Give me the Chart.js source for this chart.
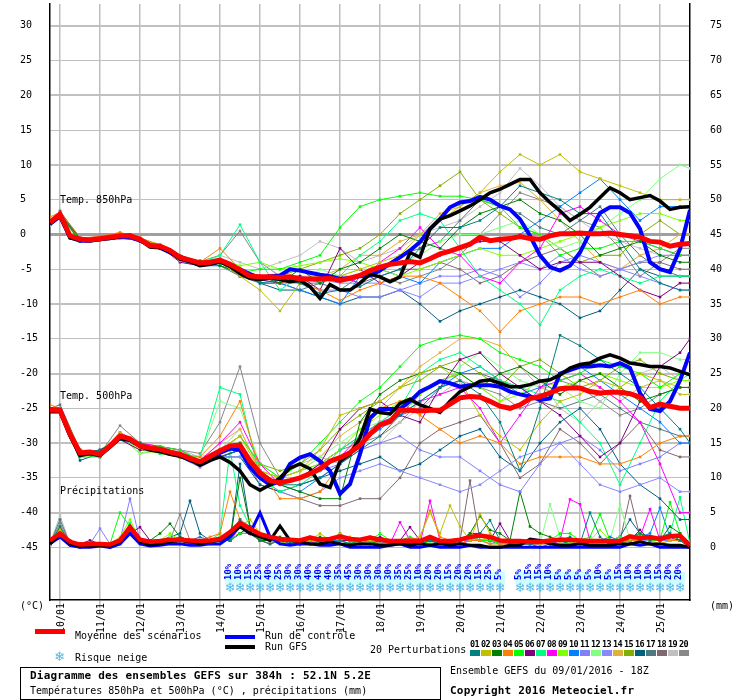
<!DOCTYPE html>
<html lang="fr">
<head>
<meta charset="utf-8">
<title>Diagramme des ensembles GEFS</title>
<script src="https://cdn.jsdelivr.net/npm/chart.js@4.4.1/dist/chart.umd.min.js"></script>
<style>
  body { margin: 0; background: #fff; }
  #page { position: relative; width: 740px; height: 700px; overflow: hidden;
          font-family: "DejaVu Sans Mono", monospace; font-size: 10px; color: #000; }
  #gefs { position: absolute; left: 0; top: 0; }
  .txt { position: absolute; white-space: nowrap; line-height: 12px; }
  .bold { font-weight: bold; font-size: 11px; letter-spacing: 0.2px; }
  .swatch { position: absolute; }
  #box { position: absolute; left: 20px; top: 667px; width: 421px; height: 33px;
         box-sizing: border-box; border: 1.5px solid #000; }
  .num { position: absolute; top: 639px; width: 11px; text-align: center; font-size: 8.5px;
         font-weight: bold; line-height: 10px; letter-spacing: -0.5px; }
  .snowflake { color: #4cb8e8; font-family: "DejaVu Sans"; font-size: 13px; }
</style>
</head>
<body>
<div id="page">
  <canvas id="gefs" width="740" height="700"></canvas>
  <div class="txt" style="left:20px;top:600px">(°C)</div>
  <div class="txt" style="left:710px;top:600px">(mm)</div>
  <!-- legende -->
  <div class="swatch" style="left:35px;top:629px;width:30px;height:5px;background:#ff0000"></div>
  <div class="txt" style="left:75px;top:630px">Moyenne des scénarios</div>
  <div class="swatch" style="left:225px;top:635px;width:30px;height:4px;background:#0000ff"></div>
  <div class="txt" style="left:265px;top:630px">Run de contrôle</div>
  <div class="swatch" style="left:225px;top:645px;width:30px;height:4px;background:#000000"></div>
  <div class="txt" style="left:265px;top:641px">Run GFS</div>
  <div class="txt snowflake" style="left:54px;top:651px">❄</div>
  <div class="txt" style="left:75px;top:652px">Risque neige</div>
  <div class="txt" style="left:370px;top:644px">20 Perturbations</div>
  <div id="members"></div>
  <!-- cadre du titre -->
  <div id="box"></div>
  <div class="txt bold" style="left:30px;top:670px">Diagramme des ensembles GEFS sur 384h : 52.1N 5.2E</div>
  <div class="txt" style="left:30px;top:685px">Températures 850hPa et 500hPa (°C) , précipitations (mm)</div>
  <div class="txt" style="left:450px;top:665px">Ensemble GEFS du 09/01/2016 - 18Z</div>
  <div class="txt bold" style="left:450px;top:685px">Copyright 2016 Meteociel.fr</div>
</div>
<script>
// pas de 6h depuis le 09/01 18Z
const allSteps = [0,1,2,3,4,5,6,7,8,9,10,11,12,13,14,15,16,17,18,19,20,21,22,23,24,25,26,27,28,29,30,31,32,
  33,34,35,36,37,38,39,40,41,42,43,44,45,46,47,48,49,50,51,52,53,54,55,56,57,58,59,60,61,62,63,64];
// perturbations lues toutes les 12h
const tempSteps = [0,1,3,5,7,9,11,13,15,17,19,21,23,25,27,29,31,33,35,37,39,41,43,45,47,49,51,53,55,57,59,61,63,64];
const dayTicks = [1,5,9,13,17,21,25,29,33,37,41,45,49,53,57,61];
const dayLabels = ['10/01','11/01','12/01','13/01','14/01','15/01','16/01','17/01',
  '18/01','19/01','20/01','21/01','22/01','23/01','24/01','25/01'];
const tempTicks = [-45,-40,-35,-30,-25,-20,-15,-10,-5,0,5,10,15,20,25,30];
const rainTicks = [0,5,10,15,20,25,30,35,40,45,50,55,60,65,70,75];

const memberColors = ['#008080','#c0c000','#008000','#ff8000','#00ff00','#800080','#00ff80','#ff00ff',
  '#80ff00','#0080ff','#8080ff','#80ff80','#8888ff','#e0b040','#80b000','#006080',
  '#507880','#806870','#c0c0c0','#888888'];

// Temp. 850hPa
const mean850 = [1.7,2.9,-0.2,-0.7,-0.8,-0.6,-0.4,-0.2,-0.2,-0.7,-1.6,-1.7,-2.3,
  -3.3,-3.7,-4.1,-4.0,-3.7,-4.3,-5.1,-6.0,-6.1,-6.1,-6.2,-6.1,-6.4,
  -6.4,-6.4,-6.3,-6.6,-6.3,-5.9,-5.2,-4.7,-4.3,-4.1,-3.9,-4.1,-3.5,
  -2.8,-2.4,-1.9,-1.4,-0.4,-0.9,-0.7,-0.6,-0.3,-0.6,-0.7,-0.2,0.1,
  0.1,0.2,0.1,0.1,0.2,0,-0.2,-0.4,-1.0,-1.1,-1.7,-1.4,-1.3];
const ctrl850 = [1.5,2.6,-0.4,-0.9,-0.9,-0.7,-0.5,-0.4,-0.4,-0.9,-1.5,-1.9,-2.6,
  -3.2,-3.8,-4.3,-4.2,-3.9,-4.4,-5.0,-5.7,-6.3,-6.0,-5.9,-5.0,-5.2,
  -5.5,-5.8,-6.0,-6.4,-6.3,-6.0,-5.9,-5.2,-4.2,-3.3,-2.3,-1.1,0.8,
  2.2,3.9,4.6,4.8,5.4,5.0,4.1,3.6,2.2,-0.2,-3.0,-4.7,-5.2,
  -4.5,-2.6,0.3,3.1,3.9,3.9,3.1,0.8,-4.0,-5.0,-5.4,-2.1,3.5];
const gfs850 = [1.5,2.8,-0.5,-0.8,-0.9,-0.7,-0.6,-0.3,-0.1,-0.8,-1.8,-1.9,-2.5,
  -3.5,-3.9,-4.5,-4.3,-3.9,-4.6,-5.6,-6.3,-6.5,-6.2,-6.5,-6.8,-6.6,
  -7.5,-9.2,-7.2,-8.0,-8.0,-7.0,-5.7,-6.1,-6.8,-6.1,-2.6,-3.3,0.8,
  2.2,2.7,3.4,4.1,5.0,6.0,6.5,7.2,7.9,7.9,6.0,4.6,3.4,
  2.0,2.9,3.9,5.3,6.7,6.0,5.0,5.3,5.6,4.8,3.6,3.9,4.0];
const pert850 = [
  [2.0,3.0,-1.0,-0.8,0.0,-1.0,-2.0,-3.5,-4.5,-4.0,-5.5,-7.0,-6.5,-7.0,-8.5,-8.0,-7.5,-6,-5,-2,1,1,2,4,7,6,5,3,3,-1,-5,-7,-8,-8],
  [1.5,2.8,-0.8,-0.5,-0.5,-0.8,-1.5,-3.0,-4.0,-4.0,-6.0,-8.0,-11.0,-7.0,-6.0,-6.0,-5.0,-4,-3,0,2,4,6,9,11.5,10,11.5,9,8,7,6,5,5,5],
  [1.6,3.0,-0.6,-0.8,-0.4,-0.6,-1.8,-3.6,-3.8,-4.5,-5.5,-6.0,-7.0,-5.0,-7.0,-5.0,-4.0,-2,0,-1,-2,1,3,4,5,3,2,0,-3,-2,-1,-3,-4,-4],
  [2.5,3.2,-0.5,-0.3,0.3,-0.5,-1.5,-3.8,-4.0,-2.0,-5.0,-6.0,-7.0,-7.0,-8.0,-9.5,-8.0,-7,-6,-6,-7,-9,-11,-14,-11,-10,-9,-9,-10,-9,-8,-10,-9,-9],
  [1.7,2.7,-1.0,-0.5,-0.3,-0.8,-1.6,-3.5,-4.0,-4.5,-5.5,-5.0,-5.0,-4.0,-3.0,1.0,4.0,5,5.5,6,5.5,5.5,5,4,1,0,-3,-2,-2,-1,-1,-2,-3,-3],
  [1.7,2.9,-0.8,-0.4,-0.5,-0.9,-1.7,-4.0,-4.5,-4.0,-6.0,-6.5,-7.0,-6.0,-8.0,-2.0,-5.0,-7,-6,-4,-3,-2,-1,-1,-3,-5,-4,-4,-4,-6,-8,-9,-7,-7],
  [1.8,2.8,-0.7,-0.7,-0.2,-0.6,-1.8,-3.4,-4.0,-3.0,1.4,-4.0,-8.0,-6.0,-7.0,-6.0,-3.0,-1,2,3,2,-2,-6,-8,-10,-13,-8,-6,-5,-6,-7,-6,-6,-6],
  [1.6,2.9,-0.6,-0.3,-0.4,-0.9,-2.0,-3.2,-4.5,-4.0,-5.0,-6.5,-6.0,-6.0,-7.0,-6.0,-7.0,-4,-2,1,-2,-3,-6,-7,-4,-2,3,4,2,0,-1,-2,-3,-3],
  [1.5,3.1,-0.8,-0.6,-0.3,-0.7,-1.4,-3.5,-4.0,-3.5,-4.5,-4.0,-5.0,-4.5,-4.0,-3.5,-4.0,-5,-6,-5,-4,-3,-2,-3,-3,-2,-1,0,1,2,3,3,2,2],
  [1.7,2.8,-0.7,-0.5,-0.2,-0.8,-1.7,-3.8,-4.5,-4.5,-5.5,-7.0,-7.0,-8.0,-9.0,-10.0,-6.0,-5,-6,-7,-4,-3,-2,-2,0,2,4,6,8,5,2,4,4,4],
  [1.7,3.0,-0.7,-0.6,-0.2,-0.6,-1.5,-3.0,-4.0,-4.5,-5.5,-6.0,-6.5,-7.0,-8.0,-8.0,-9.0,-9,-8,-7,-6,-6,-5,-6,-9,-7,-4,-3,-4,-5,-6,-7,-8,-8],
  [1.8,2.9,-0.7,-0.6,-0.1,-0.7,-1.8,-3.3,-4.0,-4.0,-6.0,-6.0,-6.0,-7.0,-5.0,-6.0,-5.0,-5,-4,-3,-1,0,0,1,2,0,-2,-1,1,3,5,8,10,9.5],
  [1.7,2.9,-0.6,-0.7,-0.3,-0.7,-1.6,-3.3,-4.2,-3.5,-5.0,-6.0,-6.0,-6.0,-6.5,-7.0,-7.0,-7,-8,-9,-7,-7,-6,-5,-4,-5,-3,-5,-6,-5,-4,-3,-3,-3],
  [1.9,2.9,-0.5,-0.6,-0.2,-0.7,-1.7,-3.4,-4.0,-3.5,-5.0,-6.0,-7.0,-6.0,-6.0,-5.0,-3.0,-3,-1,0,3,4,6,7,7.5,5,2,-1,-4,-5,-3,-2,0,0],
  [1.6,2.9,-0.8,-0.6,-0.2,-0.7,-1.7,-3.3,-4.0,-4.0,-5.0,-6.5,-6.0,-5.0,-4.0,-3.0,-2.0,0,3,5,7,9,5,3,1,0,-2,-4,-3,-3,0,2,0,0],
  [1.7,3.1,-0.6,-0.6,-0.2,-0.7,-1.7,-3.3,-4.0,-4.0,-5.0,-7.0,-8.0,-8.0,-9.0,-10.0,-9.0,-9,-8,-10,-12.5,-11,-10,-9,-8,-9,-10,-12,-11,-8,-5,-6,-6,-6],
  [1.4,3.4,-0.9,-0.6,-0.2,-0.5,-1.9,-3.1,-4.2,-4.5,-6.0,-7.0,-7.0,-8.0,-7.0,-8.0,-6.0,-5,-3,-2,-1,2,5,4,3,1,0,2,4,0,-3,-5,-6,-6],
  [1.9,2.7,-0.5,-0.8,-0.4,-0.9,-1.5,-3.5,-3.8,-4.0,-6.0,-6.0,-6.0,-7.0,-7.0,-6.0,-7.0,-6,-5,-5,-4,-5,-7,-6,-4,-3,-2,-4,-6,-5,-4,-4,-5,-5],
  [1.3,2.9,-0.7,-0.4,0.1,-0.7,-1.9,-3.5,-4.3,-3.0,-4.0,-5.0,-4.0,-3.0,-1.0,-2.0,-4.0,-3,-2,0,1,2,4,6,9.5,7,4,2,0,-1,-2,-3,-3,-3],
  [2.1,3.3,-0.4,-0.6,-0.3,-0.5,-1.7,-3.1,-3.9,-3.0,0.5,-4.0,-6.0,-7.0,-6.0,-6.0,-6.0,-6,-7,-6,-5,-3,0,3,6,5,4,2,1,-2,-6,-4,-2,-2]
];

// Temp. 500hPa
const mean500 = [-25.3,-25.3,-28.7,-31.4,-31.3,-31.6,-30.4,-29.0,-29.4,-30.4,-30.7,-30.9,-31.3,
  -31.6,-32.2,-32.7,-31.9,-31.1,-30.4,-30.3,-32.6,-34.3,-35.4,-35.7,-35.4,-35.0,
  -34.4,-33.7,-32.6,-32.1,-31.4,-30.3,-28.7,-27.4,-26.9,-25.3,-25.3,-25.4,-25.3,
  -25.3,-24.4,-23.5,-23.3,-23.4,-24.0,-24.7,-25.0,-24.5,-23.6,-23.3,-22.8,-22.2,
  -22.1,-22.1,-22.6,-22.8,-22.7,-22.7,-22.9,-23.4,-24.9,-24.4,-24.7,-25.0,-25.0];
const ctrl500 = [-25.2,-25.2,-28.8,-31.5,-31.4,-31.5,-30.5,-29.2,-29.5,-30.4,-30.8,-31.2,-31.4,
  -31.8,-32.5,-32.8,-32.0,-31.4,-30.8,-31.0,-33.5,-35.0,-36.0,-35.5,-33.0,-32.1,
  -31.6,-32.6,-34.0,-37.3,-35.9,-31.6,-26.4,-25.1,-25.1,-25.1,-24.0,-22.6,-21.9,
  -21.1,-21.4,-21.9,-21.7,-21.7,-21.7,-21.9,-22.6,-23.0,-23.3,-23.8,-23.6,-20.0,
  -19.5,-19.0,-19.0,-18.8,-19.0,-18.5,-19.2,-22.8,-25.1,-25.4,-24.0,-21.0,-17.0];
const gfs500 = [-25.5,-25.5,-29.0,-31.8,-31.5,-31.8,-30.6,-29.3,-29.6,-30.5,-31.0,-31.2,-31.6,
  -31.9,-32.4,-33.2,-32.5,-32.0,-32.8,-34.0,-36.0,-36.8,-36.0,-35.0,-33.6,-33.0,
  -33.7,-35.9,-36.4,-32.6,-31.6,-29.3,-25.1,-25.6,-25.8,-24.3,-23.7,-24.5,-25.0,
  -25.6,-24.0,-22.6,-21.9,-21.1,-20.9,-21.4,-21.9,-21.9,-21.6,-21.1,-20.9,-20.2,
  -19.2,-18.7,-18.5,-17.8,-17.3,-17.8,-18.5,-18.7,-19.0,-19.0,-19.2,-19.7,-20.2];
const pert500 = [
  [-25,-25.5,-31.5,-31,-29.5,-30,-31,-31.5,-33,-32,-31,-34,-36,-36,-35,-33,-31,-29,-26,-24,-22,-21,-23,-27,-34,-25,-14.5,-16,-18,-20,-22,-25,-28,-30],
  [-25.5,-25,-31,-31.5,-28.5,-30.5,-31,-32,-32.5,-31,-29,-34,-35,-34,-31,-26,-25,-24,-22,-20,-19,-21,-26,-29,-31,-27,-24,-23,-21,-22,-20,-21,-23,-23],
  [-25,-25,-31,-31.5,-29,-30,-31,-31.5,-32.5,-31,-30,-35,-36,-37,-38,-38,-27,-23,-21,-20,-19,-20,-22,-20,-19,-21,-23,-21,-20,-22,-24,-23,-22,-22],
  [-24.5,-25,-31,-31.5,-29,-30,-31,-32,-32,-29,-24,-34,-38,-38,-37,-33,-29,-25,-24,-26,-28,-30,-29,-30,-33,-32,-32,-32,-33,-33,-32,-30,-29,-29],
  [-25.5,-25.5,-32,-32,-29,-30.5,-30.5,-31,-32.5,-31,-29,-33,-35,-33,-30,-27,-24,-22,-19,-16,-15,-14.5,-15,-17,-18,-19,-21,-20,-18,-19,-20,-22,-20,-20],
  [-25,-25,-31.5,-31,-29.5,-31,-31,-32,-33,-32,-31,-35,-36,-35,-33,-28,-25,-24,-26,-27,-22,-18,-17,-20,-22,-24,-26,-29,-32,-30,-24,-19,-17,-15],
  [-25.5,-25,-31,-32,-29,-30,-31.5,-31.5,-32,-22,-23,-35,-37,-36,-34,-31,-29,-27,-25,-20,-18,-17,-19,-21,-22,-23,-24,-27,-30,-36,-30,-24,-21,-20],
  [-25,-25.5,-31.5,-31.5,-28.5,-30,-30.5,-31,-32.5,-30,-27,-33,-36,-35,-34,-32,-29,-27,-26,-24,-23,-22,-25,-30,-26,-22,-21,-20,-22,-24,-27,-33,-40,-40],
  [-25.5,-25,-31,-31.5,-29,-31,-31.5,-32,-33,-31,-30,-34,-35,-34,-33,-31,-28,-26,-24,-23,-21,-20,-22,-24,-23,-21,-22,-21,-20,-21,-22,-22,-21,-21],
  [-25,-25,-31.5,-32,-29.5,-30.5,-30.5,-31.5,-32.5,-32,-31,-35,-36,-37,-35,-33,-30,-28,-26,-25,-22,-20,-19,-21,-23,-22,-20,-19,-21,-23,-25,-27,-30,-30],
  [-25.5,-25.5,-31,-31.5,-29,-30,-31,-31.5,-33,-31,-30,-34,-36,-35,-34,-33,-31,-30,-29,-31,-32,-32,-34,-36,-37,-33,-30,-29,-31,-34,-33,-32,-30,-30],
  [-25,-25,-32,-31,-29,-31.5,-31,-32,-32,-24,-25,-33,-35,-34,-32,-30,-28,-27,-25,-24,-22,-19,-17,-19,-21,-22,-22,-24,-25,-20,-17,-17,-18,-18],
  [-25.5,-25,-31.5,-32,-29.5,-30.5,-31,-32,-33.5,-32,-32,-35,-37,-38,-37,-35,-34,-33,-34,-35,-36,-37,-36,-34,-32,-31,-30,-33,-36,-37,-36,-35,-37,-37],
  [-25,-25.5,-31,-31.5,-28.5,-30,-30.5,-31.5,-32.5,-30,-28,-34,-35,-34,-32,-29,-27,-25,-22,-19,-17,-15,-15,-16,-19,-22,-23,-21,-22,-24,-22,-21,-22,-22],
  [-25,-25,-31.5,-32,-29,-31.5,-31,-31.5,-32.5,-31,-29,-33,-34,-33,-31,-28,-26,-24,-22,-21,-19,-18,-20,-22,-19,-18,-20,-22,-21,-19,-18,-20,-21,-21],
  [-25.5,-25.5,-32.5,-31.5,-29.5,-30.5,-31.5,-32,-33,-32,-32,-36,-37,-36,-35,-34,-33,-32,-34,-33,-31,-29,-28,-32,-34,-30,-27,-25,-28,-33,-36,-38,-41,-41],
  [-25,-24.5,-31,-31.5,-29,-30,-31,-31.5,-32.5,-31,-30,-35,-36,-35,-33,-31,-29,-27,-26,-23,-21,-20,-20,-21,-22,-24,-25,-24,-23,-25,-27,-28,-29,-29],
  [-25.5,-25,-31.5,-31,-29,-30.5,-31,-32,-33,-32,-31,-36,-37,-38,-39,-39,-38,-38,-35,-30,-28,-27,-26,-30,-35,-33,-28,-30,-33,-30,-27,-31,-32,-32],
  [-25,-25,-31,-31.5,-29,-30,-31,-31,-32,-31,-28,-34,-35,-33,-32,-33,-31,-30,-27,-25,-23,-21,-22,-24,-22,-21,-25,-27,-24,-22,-20,-19,-21,-21],
  [-25,-25,-31.5,-31.5,-27.5,-30,-30.5,-31,-31.5,-27,-19,-30,-35,-34,-33,-31,-30,-29,-27,-24,-22,-21,-22,-23,-25,-24,-21,-22,-24,-26,-25,-23,-22,-22]
];

// Précipitations (mm / 6h)
const meanRain = [1.0,2.0,0.8,0.4,0.5,0.5,0.4,1.0,2.9,1.1,0.8,0.9,1.1,
  1.1,1.0,0.9,1.0,1.2,2.2,3.5,2.7,1.9,1.5,1.2,1.1,1.0,
  1.4,1.1,1.2,1.6,1.2,1.1,1.4,1.1,0.9,0.9,1.0,0.9,1.5,
  0.9,0.9,1.1,1.5,1.7,1.5,1.0,0.9,0.9,0.8,0.8,1.0,1.1,
  1.1,1.0,0.9,0.9,0.9,0.9,1.6,1.3,1.5,1.2,1.6,1.7,0.3];
const ctrlRain = [0.5,1.5,0.3,0,0,0.2,0,0.5,2,0.5,0.2,0.3,0.5,
  0.5,0.3,0.3,0.5,0.5,1.5,3,2,5,1.5,0.5,0.3,0.5,
  0.5,0.3,0.3,0.5,0,0,0,0,0.3,0.5,0,0,0.3,
  0,0,0,0.3,0,0,0,0,0,0,0,0,0,
  0,0,0,0,0,0,0.5,0.3,0.5,0,0,0,0];
const gfsRain = [0.5,2,0.5,0.2,0.2,0.3,0.2,0.8,3,0.8,0.3,0.5,0.8,
  1,0.8,0.5,0.8,1,2,3,2,1.5,1,3.1,1,0.8,
  0.5,0.5,0.8,0.5,0.3,0.5,0.5,0.3,0.3,0.5,0.3,0.5,0.3,
  0.5,0.3,0.5,0.3,0.3,0,0,0.3,0.3,1.2,1,0.5,0.3,
  0.3,0.5,0.3,0.3,0.3,0.5,0.5,0.8,0.5,0.5,0.3,0.3,0];
const pertRain = [
  [0.5,3,0.5,0,0.2,0.3,0,0.5,2.5,0.8,0.3,0.5,0.8, 1,0.5,0.5,1,1,1,4,2,1,0.5,1,0.8,0.5, 1.5,0.8,0.5,1,0.5,1,1.5,1,0.5,0.5,1,0.5,1, 0.5,1,1,1.5,2,3.9,1,0.5,0.5,0.5,0,0.5,1, 1.5,0.5,5,1.5,0.5,1,1.5,2,1,1.5,2,1,0],
  [0.3,2.5,0.3,0,0.3,0.5,0,0.8,3,1,0.5,0.5,1, 1,1,0.5,0.5,1.5,1.5,3,4,2,1,0.5,1,0.5, 1,2,1,2,1,0.5,1,1,0.5,0.5,1,1.5,5, 2,6,3,1,4.8,2,1,0.5,1,0.5,0.5,0.5,0.5, 0.5,1,0.5,0.5,1,0.5,1,2,1,0.5,1,1.5,0.5],
  [0.5,2,1,0.5,0.5,0.5,0.3,1,2.5,1,1,2,3.4, 1.5,1,0.5,1,1,1,10,3,1,1,1.5,1,0.5, 1,1.5,1,2,1,0.5,0.5,1,0.5,1,0.5,0.5,1, 1,0.5,1,2,4.5,2.5,2,1,8,3,2,1.5,1, 0.5,0.5,1,1,0.5,0.5,1,2,1.5,1,3,2,0.5],
  [0.5,2.8,0.5,0.3,0.5,0.5,0.3,0.5,3,0.5,0.5,1,1, 0.5,0.5,1,1.5,2,8,4,2,1,0.5,1,1,0.5, 1,1,0.5,1,1.5,1,1,0.5,0.5,1,1,1.5,5.3, 1.5,1,0.5,1,1,0.5,0.5,0.5,0.5,0.5,1,0.5,0.5, 0.5,0.5,0.5,0.5,0.5,1,1,1,0.5,0.5,1,1,0],
  [0.5,2.5,0.5,0,0.3,0.5,0.5,5,3,0.5,0.5,0.5,1, 1,1,0.5,0.5,1,1,2,2,1,1,0.5,1,1, 1,1,0.5,1,0.5,1,1,2,1,1,1.5,1,0.5, 0.5,1,1,2,1,1,0.5,1,1,0.5,1,1,2, 2,1,1.5,4.8,1,0.5,1,1.5,1,1,6.5,2,0.5],
  [0.5,1.5,0.5,0.5,1,0.5,0.5,1,2,2.9,1,0.5,1, 1,0.5,0.5,1,1,1,2,3,1,1,1,0.5,0.5, 1,1,0.5,1,1,0.5,1,1.5,1,1,2.9,1,1, 0.5,1,1,2,2,1,3.4,1,0.5,0.5,0.5,1,1, 1,1,0.5,1,0.5,1,1,2.5,1,1,1.5,1,0],
  [0.8,3,0.5,0.5,0.3,0.5,0.5,1,3.5,1,0.5,0.5,1, 1,1,0.5,1,2,14,6,3,1,1.5,1,0.5,0.5, 1,0.5,1,1.5,1,0.5,0.5,1,0.5,0.5,1,0.5,1, 1,0.5,1,1.5,1,1,0.5,1,1,0.5,1,1,1, 0.5,1,0.5,0.5,1,1.5,1,2,1,1,2,7.2,0.5],
  [0.5,2,1,0.5,0.5,0.5,0.3,1,2.5,1,0.5,0.5,1, 1.5,1,0.5,1,1,1,3,2,1,0.5,1,1,0.5, 0.5,1,0.5,1,1,0.5,1,1,0.5,3.6,1,0.5,6.7, 1,0.5,0.5,1,1,1,0.5,1,1,0.5,0.5,0.5,1, 6.9,6.2,1,0.5,1,1,1,1.5,5.5,1,1.5,1,0.5],
  [0.5,2.5,0.5,0.3,0.3,0.5,0.5,1.5,4,1,0.5,1,2, 1,0.5,0.5,1,1.5,2,3,2,1,1,1,0.5,1, 1.5,1,0.5,1,1,1,1,1,0.5,1,0.5,1,1, 1,1,1,1.5,1.5,1,1,1,0.5,1,1,1,1, 1,0.5,1,2.5,1,1,1,2,1.5,1,2,1,0.5],
  [0.5,2.5,0.5,0,0.3,0.3,0.3,1,3,1,0.5,0.5,1, 1,1,1.5,1,1,1,2,2,1,1,1,1,0.5, 1,1,1,1,0.5,0.5,1,0.5,0.5,0.5,1,1,1, 0.5,1,0.5,1,1,1,0.5,1,0.5,0.5,1,0.5,0.5, 0.5,1,1,1,1.5,1,1,1.5,2,5.7,1.5,1,0.5],
  [0.5,2,0.5,0.5,0.5,2.7,0.5,1,7,1,0.5,0.5,1, 1,0.5,0.5,1,1.5,1,2,2,1,1,1,0.5,1, 1,1,0.5,1,1,1,1,1,1,0.5,1,0.5,1, 1,0.5,1,1,1,0.5,1,1,1,0.5,1,1,1, 1,1,0.5,1,1,1,1.5,1.5,1,1,1,2,0.5],
  [0.5,3,0.5,0.5,0.3,0.3,0.5,1,3,1,0.5,0.5,1.5, 1,0.5,0.5,1,1,1,2,3,1,0.5,1,1,0.5, 1,0.5,1,1,0.5,1,0.5,1,0.5,1,0.5,1,0.5, 1,1,1,1.5,1,0.5,0.5,1,1,1,0.5,6.2,1.5, 1,1,1,0.5,1,6.2,1,1.5,1,1,1.5,1,0.5],
  [0.3,2.5,0.5,0.3,0.3,0.5,0.3,1,3,1,0.5,0.5,1, 1,0.5,1,1,1,1,3,2,1.5,1,1,0.5,0.5, 0.5,1,0.5,1,1,0.5,1,0.5,1,0.5,1,1,0.5, 1,1,0.5,1,1,1,0.5,1,1,0.5,0.5,1,0.5, 1,1,0.5,1,1,0.5,1,1,1,1.5,1,1.5,0.5],
  [0.5,2.5,0.5,0.3,0.3,0.5,0.5,1,2.5,0.5,0.5,1,1, 1,1,0.5,0.5,1,1.5,2,2,1,1,1,0.5,0.5, 1,1,1,1,1,0.5,1,1,1,0.5,0.5,0.5,1, 1,1,0.5,1,2,1,1,0.5,0.5,1,1,1,0.5, 1,1,0.5,0.5,1,1,1,2,1,1,1,1.5,0.5],
  [0.5,2,0.5,0.3,0.3,0.5,0.3,1,3,1,1,0.5,1, 1.5,1,0.5,1,1,1,2,3,1,1,1,1,0.5, 1,1,1,1,0.5,1,0.5,1,0.5,1,1,0.5,1, 1,1,1,1.5,1,1,0.5,1,0.5,0.5,1,1,1, 1,1,1,1,1,1.5,1,1,1.5,1,1,1,0.5],
  [0.5,3,0.5,0.3,0.5,0.5,0.3,1,3,1,0.5,1,1.5, 2,6.7,2,1,1,1,12,3,1,1,0.5,1,1, 1,1,0.5,1,1,1,1,0.5,1,1,0.5,1,1, 1,1,0.5,1,1,1,1,0.5,1,0.5,1,1,1, 1,1,1,0.5,1,1.5,4,2,1,1,1.5,1,0.5],
  [0.5,4,0.5,0.3,0.5,0.5,0.3,1,3,1,0.5,0.5,1, 1,1,0.5,1,1.5,1,3,2,1,1,1,0.5,0.5, 1,0.5,1,1,1,1,0.5,1,1,0.5,1,0.5,1, 1,1,1,1,1,1,0.5,1,0.5,0.5,1,1,1, 1,1,1,1,0.5,1,1,1.5,1,1,1,1.5,0.5],
  [0.5,2.5,0.5,0.3,0.3,0.5,0.5,1,2.5,1,0.5,0.5,1, 1,0.5,1,1,1,1,2,2,1,1,0.5,1,0.5, 1,1,0.5,1,1,0.5,1,1,0.5,1,1,0.5,1, 1,1,1,9.6,1,1,0.5,0.5,1,0.5,1,1,1, 1,1,1,0.5,1,1,7.4,1.5,1,1,1,1,0.5],
  [0.5,4.6,0.5,0.3,0.3,0.5,0.5,1,3,1,0.5,0.5,1, 1,1,0.5,1,1,1,2,2,1,1,1,0.5,0.5, 0.5,1,1,1,0.5,1,1,1,0.5,0.5,1,0.5,1, 1,0.5,1,1,1,1,0.5,1,1,0.5,1,0.5,1, 1,1,0.5,1,1,1,1,1,1,1,1,1,0.5],
  [0.5,3.5,0.5,0.3,0.3,0.5,0.5,1,3,1,0.5,1,1, 4.8,1,0.5,1,1,2,4,3,1,1,1,0.5,0.5, 1,1,0.5,1,1,0.5,1,0.5,1,1,0.5,1,1, 0.5,1,1,1.5,1,1,1,0.5,0.5,1,1,0.5,1, 1,0.5,1,1,1,1,1,1.5,1,1,1,1,0.5]
];

// Risque neige (%)
const snowSteps = [18,19,20,21,22,23,24,25,26,27,28,29,30,31,32,33,34,35,36,37,38,39,40,41,42,43,44,45,
  47,48,49,50,51,52,53,54,55,56,57,58,59,60,61,62,63];
const snowPct = [10,10,15,25,40,25,30,30,40,40,40,35,45,30,30,30,30,35,25,10,20,20,15,20,20,15,25,5,
  5,15,15,10,5,5,5,5,10,5,15,10,10,10,15,20,20];

const mono = '"DejaVu Sans Mono"';
Chart.defaults.font.family = mono;

const datasets = [];
function series(label, steps, values, color, width, axis, order, marks) {
  datasets.push({
    label: label,
    data: values.map((v, i) => ({ x: steps[i], y: v })),
    borderColor: color,
    backgroundColor: color,
    borderWidth: width,
    pointRadius: marks ? 1.8 : 0,
    pointStyle: 'rect',
    pointBorderWidth: 0,
    pointBackgroundColor: color,
    tension: 0,
    fill: false,
    yAxisID: axis,
    order: order
  });
}

pert850.forEach((v, i) => series('850hPa P' + (i + 1), tempSteps, v, memberColors[i], 1, 'y', 3, true));
pert500.forEach((v, i) => series('500hPa P' + (i + 1), tempSteps, v, memberColors[i], 1, 'y', 3, true));
pertRain.forEach((v, i) => series('Précip P' + (i + 1), allSteps, v, memberColors[i], 1, 'y2', 3, true));
series('Run de contrôle 850', allSteps, ctrl850, '#0000ff', 4, 'y', 2, false);
series('Run de contrôle 500', allSteps, ctrl500, '#0000ff', 4, 'y', 2, false);
series('Run de contrôle précip', allSteps, ctrlRain, '#0000ff', 3, 'y2', 2, false);
series('Run GFS 850', allSteps, gfs850, '#000000', 3.5, 'y', 1, false);
series('Run GFS 500', allSteps, gfs500, '#000000', 3.5, 'y', 1, false);
series('Run GFS précip', allSteps, gfsRain, '#000000', 3, 'y2', 1, false);
series('Moyenne 850', allSteps, mean850, '#ff0000', 5, 'y', 0, false);
series('Moyenne 500', allSteps, mean500, '#ff0000', 5, 'y', 0, false);
series('Moyenne précip', allSteps, meanRain, '#ff0000', 4.5, 'y2', 0, false);

function noPad(s) { s.paddingTop = 0; s.paddingBottom = 0; s.paddingLeft = 0; s.paddingRight = 0; }

// textes des zones et ligne du risque neige
const overlay = {
  id: 'overlay',
  afterDatasetsDraw(chart) {
    const ctx = chart.ctx, xs = chart.scales.x, ys = chart.scales.y;
    const bottom = chart.chartArea.bottom;
    ctx.save();
    ctx.fillStyle = '#000';
    ctx.font = '10px ' + mono;
    ctx.textAlign = 'left';
    ctx.textBaseline = 'middle';
    ctx.fillText('Temp. 850hPa', xs.getPixelForValue(1), ys.getPixelForValue(4.9));
    ctx.fillText('Temp. 500hPa', xs.getPixelForValue(1), ys.getPixelForValue(-23.3));
    ctx.fillText('Précipitations', xs.getPixelForValue(1), ys.getPixelForValue(-36.9));

    snowSteps.forEach(s => {
      const x = xs.getPixelForValue(s);
      ctx.fillStyle = '#ccffff';
      ctx.fillRect(x - 5, bottom - 28, 10, 12);
    });
    ctx.font = '13px "DejaVu Sans"';
    ctx.textAlign = 'center';
    ctx.fillStyle = '#4cb8e8';
    snowSteps.forEach(s => ctx.fillText('❄', xs.getPixelForValue(s), bottom - 11));
    ctx.font = 'bold 9px ' + mono;
    ctx.textAlign = 'left';
    ctx.fillStyle = '#0000ff';
    snowSteps.forEach((s, i) => {
      ctx.save();
      ctx.translate(xs.getPixelForValue(s) - 1, bottom - 20);
      ctx.rotate(-Math.PI / 2);
      ctx.fillText(snowPct[i] + '%', 0, 0);
      ctx.restore();
    });
    ctx.restore();
  }
};

new Chart(document.getElementById('gefs'), {
  type: 'line',
  data: { datasets: datasets },
  options: {
    responsive: false,
    animation: false,
    events: [],
    layout: { padding: { left: 20, right: 0, top: 0, bottom: 0 } },
    plugins: { legend: { display: false }, tooltip: { enabled: false } },
    scales: {
      x: {
        type: 'linear', min: 0, max: 64,
        afterBuildTicks: s => { s.ticks = dayTicks.map(v => ({ value: v })); },
        afterFit: s => { s.height = 100; noPad(s); },
        ticks: {
          autoSkip: false, minRotation: 90, maxRotation: 90, padding: -5, labelOffset: 1,
          color: '#000', font: { family: mono, size: 10 },
          callback: v => dayLabels[dayTicks.indexOf(v)]
        },
        grid: { color: '#bdbdbd', lineWidth: 1.5, tickLength: 8, tickColor: '#bdbdbd' },
        border: { color: '#000', width: 1.5 }
      },
      y: {
        position: 'left', min: -52.57, max: 33.14,
        afterBuildTicks: s => { s.ticks = tempTicks.map(v => ({ value: v })); },
        afterFit: s => { s.width = 30; noPad(s); },
        ticks: { crossAlign: 'far', color: '#000', font: { family: mono, size: 10 }, callback: v => String(v) },
        grid: {
          drawTicks: false,
          color: c => (c.tick && c.tick.value === 0) ? '#a0a0a0' : '#c0c0c0',
          lineWidth: c => !c.tick ? 1 : (c.tick.value === 0 ? 3 : (c.tick.value % 10 === 0 ? 2 : 1))
        },
        border: { color: '#000', width: 1.5 }
      },
      y2: {
        position: 'right', min: -7.57, max: 78.14,
        afterBuildTicks: s => { s.ticks = rainTicks.map(v => ({ value: v })); },
        afterFit: s => { s.width = 50; noPad(s); },
        ticks: { crossAlign: 'near', padding: 20, color: '#000', font: { family: mono, size: 10 }, callback: v => String(v) },
        grid: { display: false, drawTicks: false },
        border: { color: '#000', width: 1.5 }
      }
    }
  },
  plugins: [overlay]
});

// cases de couleur des 20 perturbations
const box = document.getElementById('members');
memberColors.forEach((c, i) => {
  const left = 470 + 11 * i;
  const n = document.createElement('div');
  n.className = 'num';
  n.style.left = (left - 1) + 'px';
  n.textContent = String(i + 1).padStart(2, '0');
  box.appendChild(n);
  const sw = document.createElement('div');
  sw.className = 'swatch';
  sw.style.left = left + 'px';
  sw.style.top = '650px';
  sw.style.width = '10px';
  sw.style.height = '6px';
  sw.style.background = c;
  box.appendChild(sw);
});
</script>
</body>
</html>
